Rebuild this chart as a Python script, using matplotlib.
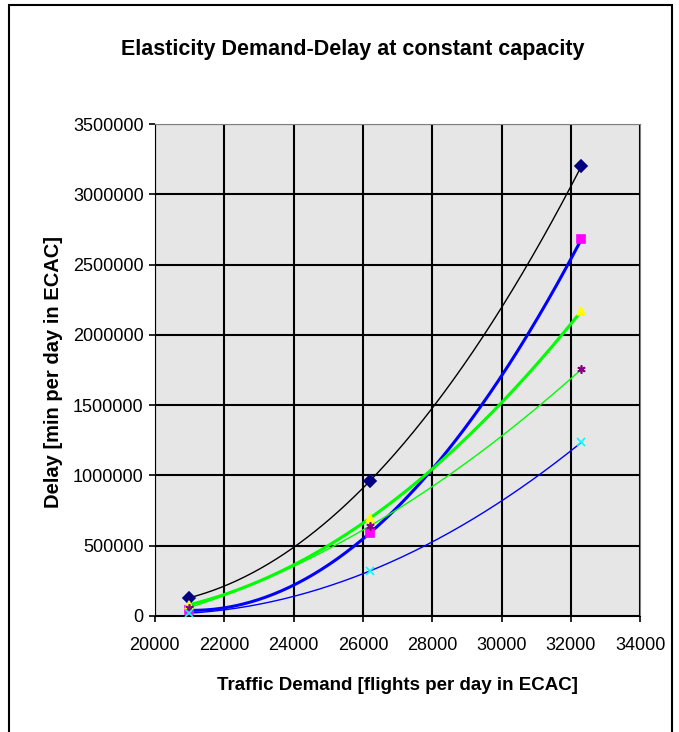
import numpy as np
import matplotlib.pyplot as plt
from matplotlib.patches import Rectangle

# Traffic demand (flights per day in ECAC)
demand = [21000, 26200, 32300]

# Delay (min per day in ECAC) for each scenario
delay_a = [130000, 960000, 3200000]   # navy diamond
delay_b = [40000, 590000, 2680000]    # magenta square
delay_c = [80000, 695000, 2170000]    # yellow triangle
delay_d = [60000, 640000, 1755000]    # purple star
delay_e = [20000, 320000, 1235000]    # cyan x

plt.rcParams['font.family'] = ['Liberation Sans', 'DejaVu Sans']

fig = plt.figure(figsize=(6.79, 7.32), dpi=100)
ax = fig.add_axes([0.228, 0.1585, 0.715, 0.672])
ax.set_facecolor('#E6E6E6')

series = [
    (delay_a, 'D', '#000080', '#000080', 'black', 1.0),
    (delay_b, 's', '#FF00FF', '#FF00FF', '#0000FF', 2.2),
    (delay_c, '^', '#FFFF00', '#FFFF00', '#00FF00', 2.2),
    (delay_d, (6, 2, 0), '#800080', '#800080', '#00FF00', 1.0),
    (delay_e, 'x', '#00FFFF', '#00FFFF', '#0000FF', 1.0),
]

xs = np.linspace(demand[0], demand[-1], 200)
for vals, m, fc, ec, lc, lw in series:
    # 2nd order polynomial trendline, like the spreadsheet one
    coef = np.polyfit(demand, vals, 2)
    ax.plot(xs, np.polyval(coef, xs), color=lc, lw=lw, zorder=3)
    ax.plot(demand, vals, linestyle='none', marker=m, markersize=6,
            markerfacecolor=fc, markeredgecolor=ec, markeredgewidth=1.2, zorder=4)

ax.set_xlim(20000, 34000)
ax.set_ylim(0, 3500000)
ax.set_xticks(range(20000, 34001, 2000))
ax.set_yticks(range(0, 3500001, 500000))
ax.ticklabel_format(style='plain', axis='y', useOffset=False)
ax.grid(True, color='black', lw=1.5)
ax.set_axisbelow(True)
for s in ax.spines.values():
    s.set_color('#808080')
ax.spines['left'].set_color('black')
ax.spines['bottom'].set_color('black')
ax.tick_params(direction='out', length=4, width=1.2, labelsize=13)
ax.tick_params(axis='x', pad=11)
ax.tick_params(axis='y', pad=4)

fig.text(353 / 679, 1 - 50 / 732, 'Elasticity Demand-Delay at constant capacity',
         fontsize=15.5, fontweight='bold', ha='center', va='center')
fig.text(397 / 679, 1 - 686 / 732, 'Traffic Demand [flights per day in ECAC]',
         fontsize=13.5, fontweight='bold', ha='center', va='center')
fig.text(54 / 679, 1 - 372 / 732, 'Delay [min per day in ECAC]',
         fontsize=14.5, fontweight='bold', ha='center', va='center', rotation=90)

fig.patches.append(Rectangle((9 / 679, -0.01), 663 / 679, 1 - 5 / 732 + 0.01,
                             transform=fig.transFigure, fill=False,
                             edgecolor='black', lw=1.5))

fig.savefig('out.png', dpi=100)
